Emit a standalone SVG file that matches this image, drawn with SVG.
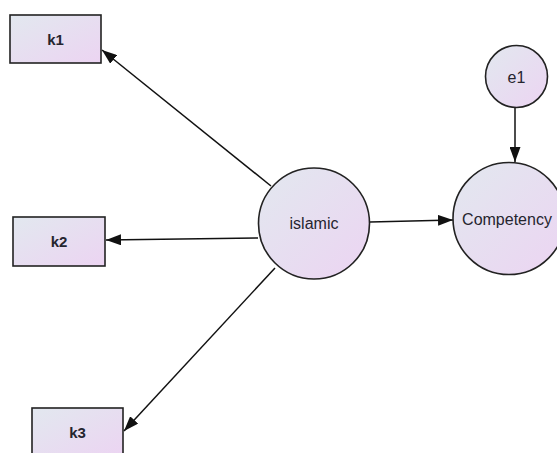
<svg xmlns="http://www.w3.org/2000/svg" width="557" height="453" viewBox="0 0 557 453">
  <defs>
    <linearGradient id="fillGrad" x1="0" y1="0" x2="1" y2="1">
      <stop offset="0" stop-color="#e2e8ef"/>
      <stop offset="1" stop-color="#ecd4f2"/>
    </linearGradient>
    <marker id="arrow" viewBox="0 0 15 11" refX="15" refY="5.5" markerWidth="15" markerHeight="11" markerUnits="userSpaceOnUse" orient="auto">
      <path d="M0,0 L15,5.5 L0,11 Z" fill="#111"/>
    </marker>
  </defs>
  <style>
    .node { fill: url(#fillGrad); stroke: #222; stroke-width: 1.6; }
    .lbl { font-family: "Liberation Sans", Arial, sans-serif; font-size: 16px; fill: #25252f; text-anchor: middle; dominant-baseline: central; }
    .obs { font-weight: bold; font-size: 15px; }
    .edge { stroke: #111; stroke-width: 1.5; fill: none; marker-end: url(#arrow); }
  </style>
  <rect width="557" height="453" fill="#ffffff"/>

  <g id="connectors">
    <line class="edge" x1="271" y1="186" x2="102" y2="50"/>
    <line class="edge" x1="258" y1="238" x2="106" y2="240"/>
    <line class="edge" x1="275" y1="268" x2="124" y2="431"/>
    <line class="edge" x1="370" y1="222" x2="453" y2="220"/>
    <line class="edge" x1="515" y1="108" x2="515" y2="162"/>
  </g>

  <g id="k1">
    <rect class="node" x="10" y="15" width="91" height="48"/>
    <text class="lbl obs" x="55.5" y="39">k1</text>
  </g>
  <g id="k2">
    <rect class="node" x="13" y="217" width="92" height="49"/>
    <text class="lbl obs" x="59" y="241.5">k2</text>
  </g>
  <g id="k3">
    <rect class="node" x="32" y="408" width="91" height="49"/>
    <text class="lbl obs" x="77.5" y="432">k3</text>
  </g>
  <g id="islamic">
    <circle class="node" cx="314" cy="223.5" r="55.5"/>
    <text class="lbl" x="314" y="223.5">islamic</text>
  </g>
  <g id="competency">
    <circle class="node" cx="509" cy="218.5" r="56"/>
    <text class="lbl" x="507" y="219">Competency</text>
  </g>
  <g id="e1">
    <circle class="node" cx="516.5" cy="76.5" r="31"/>
    <text class="lbl" x="516.5" y="77">e1</text>
  </g>
</svg>
